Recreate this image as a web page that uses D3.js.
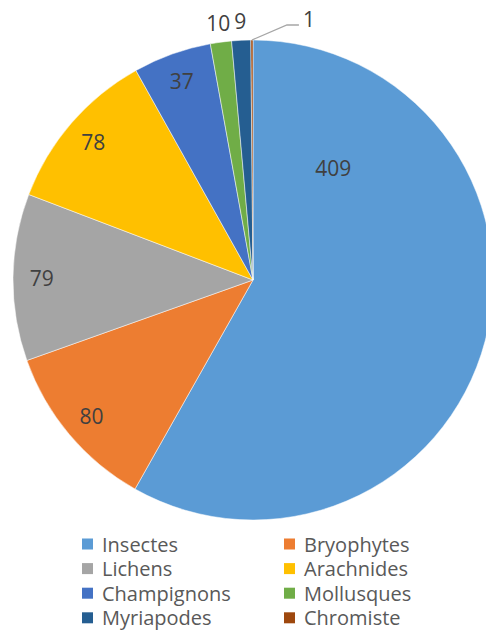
<!DOCTYPE html>
<meta charset="utf-8">
<script src="https://d3js.org/d3.v7.min.js"></script>
<style>
  body { margin: 0; background: #fff; }
  text { font-family: "Open Sans", sans-serif; }
</style>
<div id="my_dataviz"></div>
<script>

// data
var categories = ["Insectes", "Bryophytes", "Lichens", "Arachnides", "Champignons", "Mollusques", "Myriapodes", "Chromiste"];
var values = [409, 80, 79, 78, 37, 10, 9, 1];
var colors = ["#5B9BD5", "#ED7D31", "#A5A5A5", "#FFC000", "#4472C4", "#70AD47", "#255E91", "#9E480E"];

var width = 486, height = 635;
var cx = 253, cy = 280, radius = 240;

var svg = d3.select("#my_dataviz")
  .append("svg")
    .attr("width", width)
    .attr("height", height);

var g = svg.append("g")
    .attr("transform", "translate(" + cx + "," + cy + ")");

var pie = d3.pie().sort(null).value(function(d) { return d; });
var arcs = pie(values);

var arc = d3.arc().innerRadius(0).outerRadius(radius);

g.selectAll("path")
  .data(arcs)
  .enter()
  .append("path")
    .attr("d", arc)
    .style("fill", function(d, i) { return colors[i]; })
    .style("stroke", "#fff")
    .style("stroke-width", 0.5);

// label placement: radius factor along the slice middle, the big slice sits higher up
function labelPoint(d, i) {
  var a = (d.startAngle + d.endAngle) / 2;
  var r = radius * 0.88;
  if (i == 0) { a = d.startAngle + (d.endAngle - d.startAngle) * 0.17; r = radius * 0.575; }
  if (i == 5 || i == 6) { r = radius * 1.08; }
  return [Math.sin(a) * r, -Math.cos(a) * r];
}

g.selectAll("text.lbl")
  .data(arcs.slice(0, 7))
  .enter()
  .append("text")
    .attr("class", "lbl")
    .attr("x", function(d, i) { return labelPoint(d, i)[0]; })
    .attr("y", function(d, i) { return labelPoint(d, i)[1]; })
    .attr("text-anchor", "middle")
    .attr("dominant-baseline", "central")
    .style("font-size", "21px")
    .style("fill", "#404040")
    .text(function(d) { return d.data; });

// the tiny slice gets a leader line
var tiny = arcs[7];
var ta = (tiny.startAngle + tiny.endAngle) / 2;
var p0 = [Math.sin(ta) * radius, -Math.cos(ta) * radius];
g.append("polyline")
  .attr("points", [p0, [p0[0] + 35, p0[1] - 15], [p0[0] + 47, p0[1] - 15]].map(function(p) { return p.join(","); }).join(" "))
  .style("fill", "none")
  .style("stroke", "#a6a6a6")
  .style("stroke-width", 1.3);
g.append("text")
  .attr("x", p0[0] + 51)
  .attr("y", p0[1] - 21)
  .attr("dominant-baseline", "central")
  .style("font-size", "21px")
  .style("fill", "#404040")
  .text(values[7]);

// legend, two columns
var legend = svg.append("g").attr("transform", "translate(82,544)");
var items = legend.selectAll("g")
  .data(categories)
  .enter()
  .append("g")
    .attr("transform", function(d, i) { return "translate(" + ((i % 2) * 202) + "," + (Math.floor(i / 2) * 24.6) + ")"; });

items.append("rect")
  .attr("x", 0).attr("y", -5.5)
  .attr("width", 11).attr("height", 11)
  .style("fill", function(d, i) { return colors[i]; });

items.append("text")
  .attr("x", 20).attr("y", 0)
  .attr("dominant-baseline", "central")
  .style("font-size", "20px")
  .style("fill", "#595959")
  .text(function(d) { return d; });

</script>
